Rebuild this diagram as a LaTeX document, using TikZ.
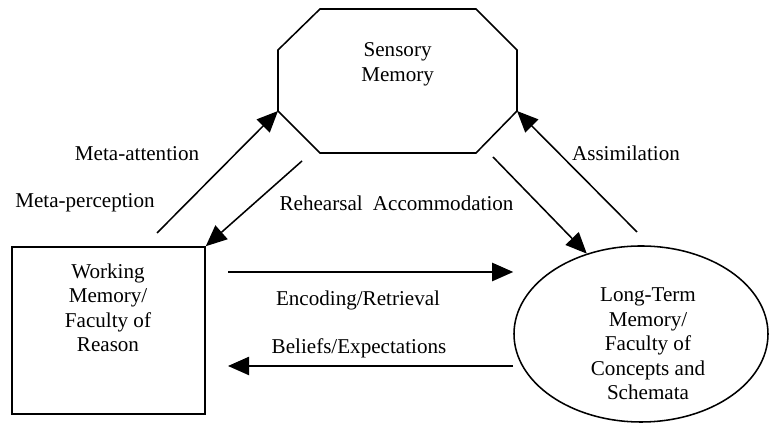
\documentclass[tikz,border=0pt]{standalone}
\usepackage{fontspec}
\setmainfont{Liberation Serif}
\usetikzlibrary{arrows.meta,shapes.geometric}

\begin{document}
\begin{tikzpicture}[
    line width=1.1pt,
    flow/.style={-{Triangle[length=15pt,width=13pt]}},
    lbl/.style={font=\fontsize{15}{17.4}\selectfont, align=center},
  ]
    \useasboundingbox (0,0) rectangle (19.25,10.75);

    \draw (8,10.525) -- (11.9,10.525) -- (12.925,9.5) -- (12.925,7.975) coordinate (smr)
      -- (11.9,6.925) -- (8,6.925) -- (6.95,7.975) coordinate (sml) -- (6.95,9.5) -- cycle;
    \node[lbl] (sm) at (9.94,9.14) {Sensory\\Memory};

    \node[draw, minimum width=4.825cm, minimum height=4.175cm] (wm) at (2.7125,2.4875) {};
    \node[lbl] (wmtext) at (2.7,3.06) {Working\\Memory/\\Faculty of\\Reason};

    \node[draw, ellipse, minimum width=6.35cm, minimum height=4.4cm] (ltm) at (16.025,2.4) {};
    \node[lbl] (ltmtext) at (16.2,2.15) {Long-Term\\Memory/\\Faculty of\\Concepts and\\Schemata};

    \coordinate (mtail) at (3.925,4.925);
    \coordinate (rtail) at (7.55,6.725);
    \coordinate (atail) at (12.325,6.825);
    \coordinate (stail) at (15.925,4.95);
    \coordinate (enc) at (5.7,3.95);
    \coordinate (bel) at (5.7,1.6);

    \draw[flow] (mtail) -- (sml);
    \draw[flow] (rtail) -- (wm.north east);
    \draw[flow] (atail) -- (ltm.124);
    \draw[flow] (stail) -- (smr);
    \draw[flow] (enc) -- (enc -| ltm.west);
    \draw[flow] (bel -| ltm.west) -- (bel);

    \node[lbl] (mattn) at (3.425,6.9) {Meta-attention};
    \node[lbl] (mperc) at (2.125,5.675) {Meta-perception};
    \node[lbl] (rehe) at (8.03,5.675) {Rehearsal};
    \node[lbl] (accom) at (11.08,5.675) {Accommodation};
    \node[lbl] (assim) at (15.65,6.925) {Assimilation};
    \node[lbl] (encret) at (8.95,3.25) {Encoding/Retrieval};
    \node[lbl] (belexp) at (8.975,2.05) {Beliefs/Expectations};
  \end{tikzpicture}
\end{document}
